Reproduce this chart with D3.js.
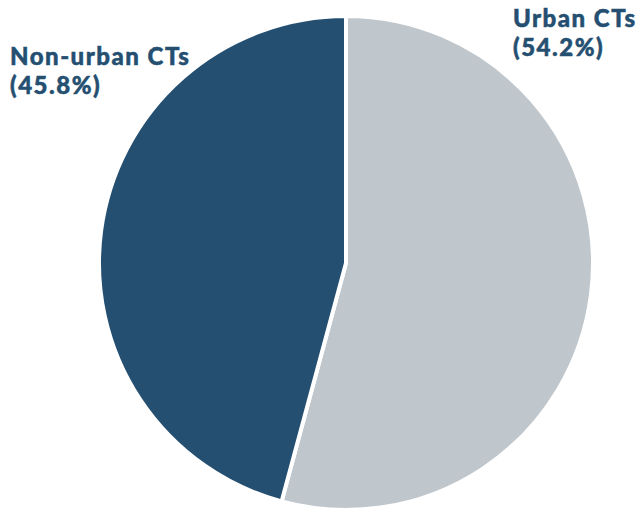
<!DOCTYPE html>
<html>
<head>
<meta charset="utf-8">
<script src="https://cdn.jsdelivr.net/npm/d3@7"></script>
<style>
  body { margin: 0; background: #fff; }
  svg { display: block; }
</style>
</head>
<body>
<div id="chart"></div>
<script>
  const categories = ['Urban CTs', 'Non-urban CTs'];
  const shares = [54.2, 45.8];
  const colors = ['#c0c7cc', '#254f71'];

  const width = 637, height = 510;
  const cx = 346, cy = 263, radius = 247;

  const svg = d3.select('#chart')
    .append('svg')
    .attr('width', width)
    .attr('height', height);

  const pie = d3.pie().sort(null).value(d => d.value);
  const arc = d3.arc().innerRadius(0).outerRadius(radius);

  const data = categories.map((c, i) => ({ name: c, value: shares[i], color: colors[i] }));

  svg.append('g')
    .attr('transform', `translate(${cx},${cy})`)
    .selectAll('path')
    .data(pie(data))
    .enter()
    .append('path')
    .attr('d', arc)
    .attr('fill', d => d.data.color)
    .attr('stroke', '#fff')
    .attr('stroke-width', 4)
    .attr('stroke-linejoin', 'round');

  // Labels: name on one line, share below
  const labelPos = [
    { x: 513, y: 27 },
    { x: 10, y: 65 }
  ];

  data.forEach((d, i) => {
    const t = svg.append('text')
      .attr('x', labelPos[i].x)
      .attr('y', labelPos[i].y)
      .style('font-family', 'Lato, "Open Sans", sans-serif')
      .style('font-weight', 900)
      .style('font-size', '24px')
      .style('letter-spacing', '1.5px')
      .style('fill', '#254f71')
      .style('stroke', '#254f71')
      .style('stroke-width', 0.5);
    t.append('tspan').text(d.name);
    t.append('tspan')
      .attr('x', labelPos[i].x)
      .attr('dy', 29)
      .text(`(${d.value.toFixed(1)}%)`);
  });
</script>
</body>
</html>
